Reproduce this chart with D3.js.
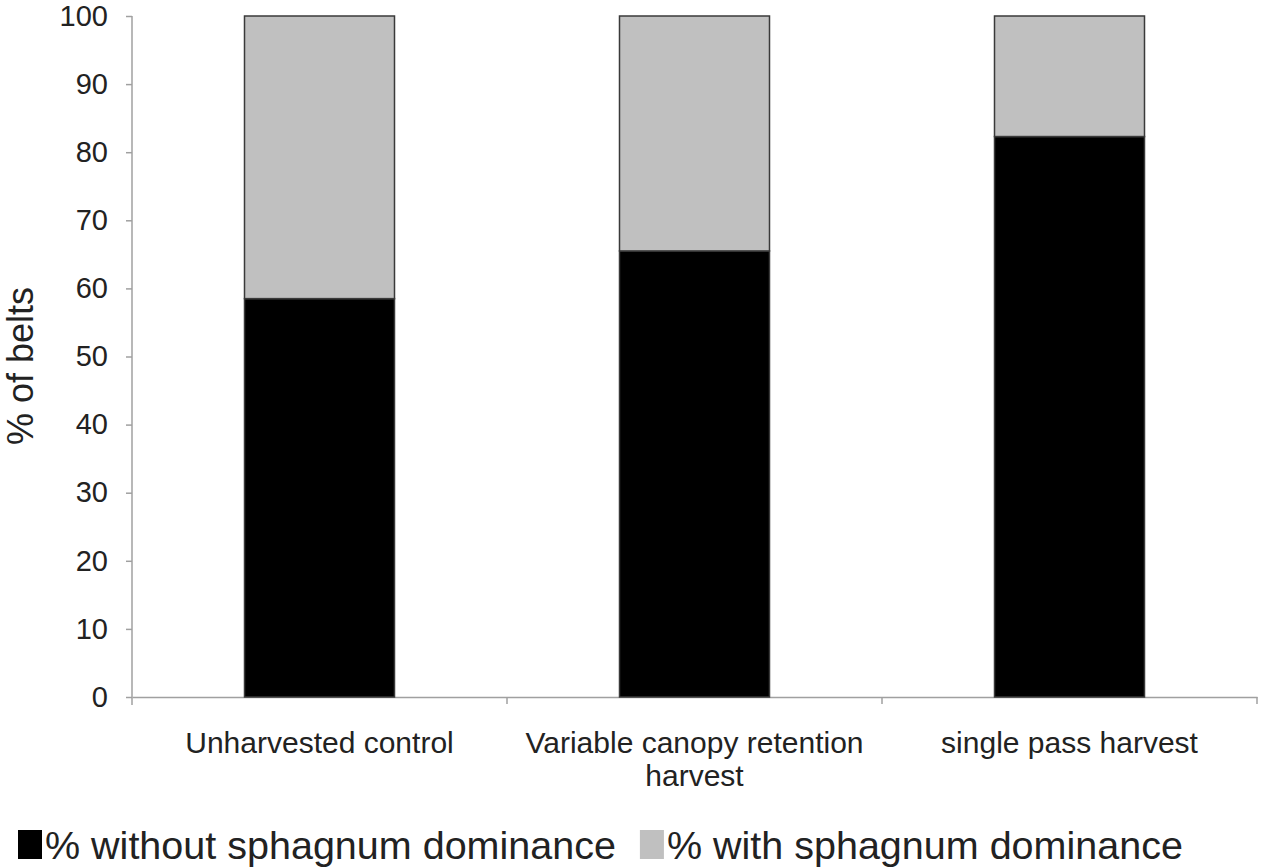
<!DOCTYPE html>
<html><head><meta charset="utf-8">
<script src="https://cdn.jsdelivr.net/npm/d3@7"></script>
<style>body{margin:0;background:#fff}svg{display:block}text{font-family:"Liberation Sans",Arial,sans-serif;fill:#222}</style>
</head><body><svg id="c" width="1261" height="867"></svg>
<script>
const categories = ["Unharvested control", "Variable canopy retention harvest", "single pass harvest"];
const categoryLines = [["Unharvested control"], ["Variable canopy retention", "harvest"], ["single pass harvest"]];
const withoutSphagnum = [58.5, 65.5, 82.3];
const withSphagnum = [41.5, 34.5, 17.7];
const seriesNames = ["% without sphagnum dominance", "% with sphagnum dominance"];
const seriesColors = ["#000000", "#c0c0c0"];
const yTicks = [0,10,20,30,40,50,60,70,80,90,100];

const svg = d3.select("#c");
const L = 132, R = 1257, T = 16, B = 697;
const x = d3.scaleBand().domain(categories).range([L, R]).paddingInner(0.6).paddingOuter(0.3);
const y = d3.scaleLinear().domain([0, 100]).range([B, T]);

const stackData = categories.map((c, i) => ({cat: c, s0: withoutSphagnum[i], s1: withSphagnum[i]}));
const stacked = d3.stack().keys(["s0", "s1"])(stackData);

// y axis
const ya = svg.append("g").attr("transform", `translate(${L},0)`)
  .call(d3.axisLeft(y).tickValues(yTicks).tickSize(6).tickPadding(18));
ya.select(".domain").attr("stroke", "#a0a0a0").attr("stroke-width", 1.5).attr("d", `M0,${T}V${B+8}`);
ya.selectAll(".tick line").attr("stroke", "#a0a0a0").attr("stroke-width", 1.5);
ya.selectAll(".tick text").style("font-size", "29px").style("fill", "#222").attr("font-family", null);

// x axis
const xa = svg.append("g").attr("transform", `translate(0,${B})`)
  .call(d3.axisBottom(x).tickSize(0).tickFormat(""));
xa.select(".domain").attr("stroke", "#a0a0a0").attr("stroke-width", 1.5);
const bounds = categories.map((c) => x(c) - x.step() * 0.3 + x.step());
xa.selectAll(".bnd").data(bounds).enter().append("line")
  .attr("x1", d => d).attr("x2", d => d).attr("y1", 0).attr("y2", 7)
  .attr("stroke", "#a0a0a0").attr("stroke-width", 1.5);

// labels
categoryLines.forEach((lines, i) => {
  const t = svg.append("text").attr("text-anchor", "middle").style("font-size", "30px");
  lines.forEach((ln, j) => t.append("tspan").attr("x", x(categories[i]) + x.bandwidth()/2)
    .attr("y", 753 + j*33).text(ln));
});

// bars
stacked.forEach((layer, k) => {
  svg.append("g").selectAll("rect").data(layer).enter().append("rect")
    .attr("x", d => x(d.data.cat))
    .attr("width", x.bandwidth())
    .attr("y", d => y(d[1]))
    .attr("height", d => y(d[0]) - y(d[1]))
    .attr("fill", seriesColors[k])
    .attr("stroke", "#3a3a3a").attr("stroke-width", 1.5);
});

// y title
svg.append("text").attr("transform", `translate(33,366) rotate(-90)`)
  .attr("text-anchor", "middle").style("font-size", "36px").text("% of belts");

// legend
const lg = svg.append("g");
let cx = 18;
seriesNames.forEach((n, i) => {
  lg.append("rect").attr("x", cx).attr("y", 830).attr("width", 24).attr("height", 29).attr("fill", seriesColors[i]);
  const t = lg.append("text").attr("x", cx + 27).attr("y", 859).style("font-size", "39.5px").text(n);
  cx = cx + 27 + t.node().getComputedTextLength() + 24;
});
</script></body></html>
